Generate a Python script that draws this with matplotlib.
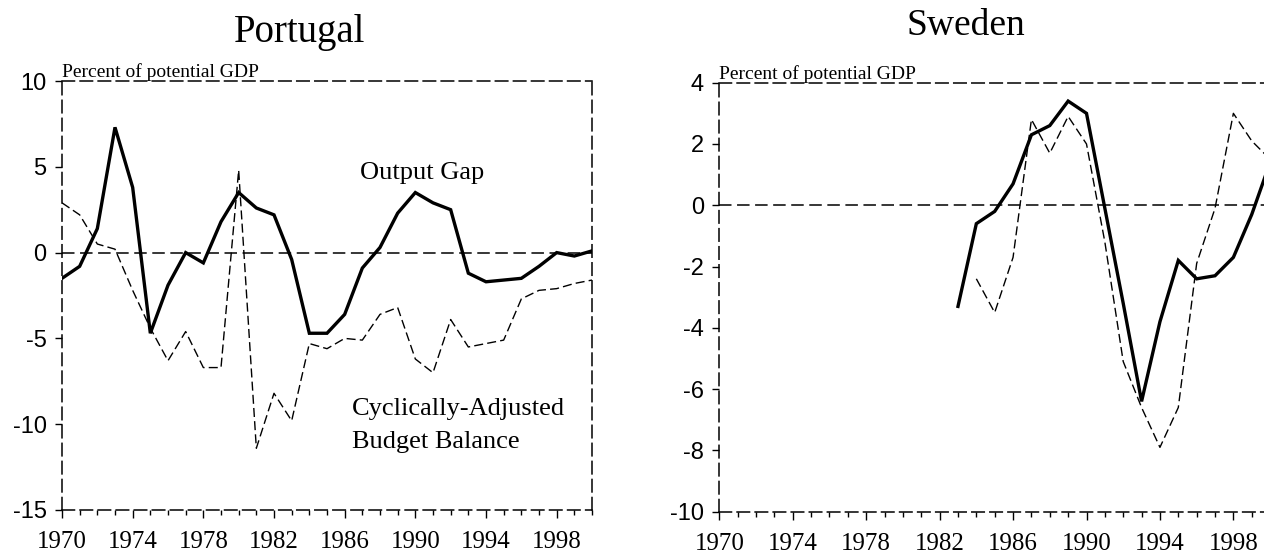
import matplotlib
matplotlib.use('Agg')
import matplotlib.pyplot as plt
from matplotlib.ticker import MultipleLocator

plt.rcParams['lines.scale_dashes'] = False

# ---------------- data ----------------
pt_years = list(range(1970, 2001))
pt_output_gap = [-1.5, -0.8, 1.4, 7.3, 3.8, -4.7, -1.9, 0.0, -0.6, 1.8,
                 3.5, 2.6, 2.2, -0.4, -4.7, -4.7, -3.6, -0.9, 0.3, 2.3,
                 3.5, 2.9, 2.5, -1.2, -1.7, -1.6, -1.5, -0.8, 0.0, -0.2, 0.1]
pt_budget = [2.9, 2.2, 0.5, 0.2, -2.2, -4.4, -6.3, -4.6, -6.7, -6.7,
             4.8, -11.4, -8.2, -9.8, -5.3, -5.6, -5.0, -5.1, -3.6, -3.2,
             -6.2, -7.0, -3.9, -5.5, -5.3, -5.1, -2.7, -2.2, -2.1, -1.8, -1.6]

se_gap_years = list(range(1983, 2001))
se_output_gap = [-3.3, -0.6, -0.2, 0.7, 2.3, 2.6, 3.4, 3.0, -0.1, -3.2,
                 -6.4, -3.8, -1.8, -2.4, -2.3, -1.7, -0.3, 1.4]
se_budget_years = list(range(1984, 2001))
se_budget = [-2.4, -3.5, -1.7, 2.8, 1.7, 2.9, 2.0, -1.2, -5.1, -6.6,
             -7.9, -6.6, -1.9, -0.1, 3.0, 2.1, 1.5]

pt_yticks = [10, 5, 0, -5, -10, -15]
se_yticks = [4, 2, 0, -2, -4, -6, -8, -10]
x_major = list(range(1970, 2001, 4))

SERIF = 'Liberation Serif'
SANS = 'Liberation Sans'
W, H = 1264, 554

fig = plt.figure(figsize=(W / 100, H / 100), dpi=100)

SPINE_DASH = (0, (9, 4))
SERIES_DASH = (0, (6.5, 3))


def style_axes(ax, ylim, yticks):
    ax.set_xlim(1970, 2000)
    ax.set_ylim(*ylim)
    for s in ax.spines.values():
        s.set_linestyle(SPINE_DASH)
        s.set_linewidth(1.1)
        s.set_color('black')
    ax.axhline(0, color='black', lw=1.1, ls=SPINE_DASH, zorder=1)
    ax.set_yticks(yticks)
    ax.set_yticklabels([f'{v:g}' for v in yticks], fontfamily=SANS, fontsize=17)
    ax.set_xticks(x_major)
    ax.set_xticklabels([str(v) for v in x_major], fontfamily=SERIF, fontsize=18)
    ax.xaxis.set_minor_locator(MultipleLocator(1))
    ax.tick_params(axis='y', direction='out', length=5, width=1, pad=6,
                   left=True, right=False)
    ax.tick_params(axis='x', which='major', direction='out', length=6, width=1,
                   pad=9, bottom=True, top=False)
    ax.tick_params(axis='x', which='minor', direction='out', length=3.5, width=1,
                   bottom=True, top=False)
    ax.text(0.0, 1.0, 'Percent of potential GDP', transform=ax.transAxes,
            fontfamily=SERIF, fontsize=14, ha='left', va='bottom')


# ---------------- Portugal ----------------
ax1 = fig.add_axes([62 / W, 1 - 510 / H, 530 / W, 429 / H])
style_axes(ax1, (-15, 10), pt_yticks)
ax1.plot(pt_years, pt_budget, color='black', lw=1.0, ls=SERIES_DASH, zorder=2)
ax1.plot(pt_years, pt_output_gap, color='black', lw=2.4, zorder=3,
         solid_joinstyle='miter')
ax1.text(1986.87, 4.3, 'Output Gap', fontfamily=SERIF, fontsize=19,
         ha='left', va='baseline')
ax1.text(1986.4, -9.44, 'Cyclically-Adjusted', fontfamily=SERIF, fontsize=19,
         ha='left', va='baseline')
ax1.text(1986.4, -11.36, 'Budget Balance', fontfamily=SERIF, fontsize=19,
         ha='left', va='baseline')

# ---------------- Sweden ----------------
ax2 = fig.add_axes([719.3 / W, 1 - 511.7 / H, 550.8 / W, 429 / H])
style_axes(ax2, (-10, 4), se_yticks)
ax2.plot(se_budget_years, se_budget, color='black', lw=1.0, ls=SERIES_DASH, zorder=2)
ax2.plot(se_gap_years, se_output_gap, color='black', lw=2.4, zorder=3,
         solid_joinstyle='miter')

# ---------------- titles ----------------
fig.text(300 / W, 1 - 41.7 / H, 'Portugal', fontfamily=SERIF, fontsize=28,
         ha='center', va='baseline')
fig.text(965.5 / W, 1 - 35 / H, 'Sweden', fontfamily=SERIF, fontsize=27,
         ha='center', va='baseline')

fig.savefig('out.png', dpi=100)
